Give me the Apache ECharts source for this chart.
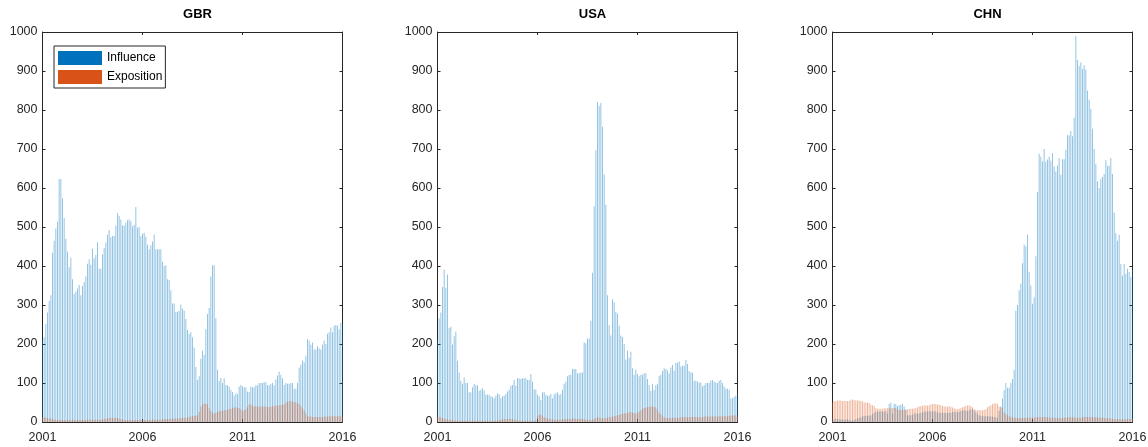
<!DOCTYPE html>
<html>
<head>
<meta charset="utf-8">
<script src="https://cdn.jsdelivr.net/npm/echarts@6/dist/echarts.min.js"></script>
<style>
  html, body { margin: 0; padding: 0; background: #fff; }
  #chart { width: 1148px; height: 447px; }
</style>
</head>
<body>
<div id="chart"></div>
<script>
// Monthly observations, January 2001 through January 2016
const countries = ['GBR', 'USA', 'CHN'];
const seriesNames = ['Influence', 'Exposition'];
const firstYear = 2001;
const lastYear = 2016;
const yearStep = 5;
const valueMax = 1000;
const valueStep = 100;

const gbrInfluence = [
  210, 217, 251, 281, 310, 325, 434, 465, 496, 514, 623, 623,
  574, 523, 470, 437, 397, 421, 366, 329, 334, 342, 351, 325,
  349, 359, 373, 406, 417, 403, 444, 420, 428, 461, 393, 393,
  430, 446, 460, 480, 492, 474, 477, 477, 504, 536, 529, 519,
  504, 504, 511, 517, 519, 515, 502, 506, 551, 498, 500, 477,
  483, 485, 475, 455, 443, 453, 463, 481, 443, 443, 443, 443,
  411, 400, 402, 366, 364, 338, 304, 304, 283, 283, 285, 301,
  291, 285, 264, 236, 226, 230, 217, 191, 141, 108, 117, 162,
  183, 172, 238, 277, 292, 373, 402, 402, 266, 134, 105, 113,
  100, 112, 94, 94, 91, 83, 77, 68, 74, 72, 91, 95,
  91, 89, 89, 78, 77, 91, 89, 89, 94, 94, 100, 100,
  100, 102, 102, 94, 94, 98, 100, 94, 109, 119, 129, 121,
  112, 95, 100, 98, 98, 100, 100, 85, 85, 100, 140, 147,
  157, 153, 170, 213, 209, 198, 204, 186, 186, 194, 189, 186,
  198, 209, 200, 226, 230, 242, 230, 247, 249, 247, 238, 254,
  252
];
const gbrExposition = [
  12, 12, 11, 10, 9, 9, 8, 7, 6, 5, 5, 5,
  5, 5, 5, 5, 5, 5, 5, 5, 5, 5, 5, 5,
  5, 5, 5, 5, 6, 6, 6, 6, 6, 6, 6, 6,
  7, 8, 9, 9, 10, 10, 10, 10, 11, 10, 9, 8,
  6, 5, 5, 5, 5, 5, 5, 5, 5, 5, 5, 5,
  5, 5, 5, 5, 5, 5, 6, 6, 6, 6, 6, 6,
  7, 7, 8, 8, 8, 8, 8, 9, 9, 9, 9, 10,
  10, 10, 11, 12, 13, 14, 15, 15, 16, 17, 26, 40,
  45, 47, 47, 45, 35, 28, 24, 22, 24, 26, 27, 28,
  29, 30, 31, 32, 33, 34, 36, 37, 38, 36, 35, 33,
  28, 30, 33, 38, 45, 45, 42, 40, 40, 39, 39, 40,
  40, 40, 39, 39, 38, 40, 41, 40, 42, 42, 43, 43,
  44, 45, 50, 52, 53, 53, 52, 51, 50, 48, 46, 41,
  35, 30, 22, 15, 14, 14, 13, 13, 13, 13, 13, 13,
  13, 14, 14, 14, 15, 15, 15, 15, 15, 15, 15, 15,
  15
];

const usaInfluence = [
  210, 266, 281, 346, 391, 344, 378, 241, 244, 199, 220, 232,
  157, 127, 106, 98, 114, 100, 100, 76, 76, 89, 98, 94,
  94, 80, 83, 87, 81, 70, 70, 70, 66, 64, 61, 67,
  74, 71, 61, 66, 67, 72, 78, 83, 93, 95, 108, 93,
  112, 112, 110, 112, 112, 112, 108, 108, 123, 104, 84, 83,
  70, 66, 57, 76, 76, 70, 67, 67, 72, 61, 71, 74,
  76, 70, 72, 83, 98, 104, 117, 121, 121, 136, 136, 136,
  125, 125, 127, 127, 204, 202, 214, 214, 259, 383, 553, 697,
  820, 810, 818, 757, 635, 557, 325, 248, 222, 315, 308, 282,
  278, 247, 222, 218, 200, 160, 183, 165, 180, 138, 121, 134,
  123, 117, 121, 121, 125, 125, 110, 95, 80, 98, 83, 95,
  98, 118, 121, 131, 138, 136, 132, 125, 140, 146, 132, 151,
  152, 155, 142, 144, 144, 159, 149, 131, 127, 127, 106, 106,
  104, 101, 101, 91, 95, 100, 100, 100, 106, 108, 104, 101,
  100, 106, 108, 100, 91, 85, 85, 83, 61, 61, 64, 68,
  72
];
const usaExposition = [
  14, 13, 12, 10, 9, 8, 7, 6, 5, 5, 4, 4,
  3, 3, 3, 3, 3, 3, 3, 3, 3, 3, 3, 3,
  3, 3, 3, 3, 3, 3, 3, 3, 3, 3, 3, 3,
  4, 5, 6, 7, 8, 8, 8, 8, 8, 7, 6, 5,
  4, 4, 3, 3, 3, 3, 3, 3, 3, 3, 3, 3,
  15, 19, 18, 15, 12, 10, 9, 8, 7, 6, 6, 6,
  6, 6, 6, 7, 7, 7, 8, 8, 8, 9, 9, 8,
  8, 8, 9, 8, 7, 6, 6, 5, 5, 6, 8, 10,
  12, 11, 10, 9, 9, 10, 11, 12, 13, 14, 15, 16,
  17, 18, 20, 21, 22, 23, 24, 25, 25, 24, 23, 22,
  24, 26, 30, 34, 36, 37, 38, 39, 40, 40, 39, 37,
  30, 24, 20, 15, 12, 11, 10, 10, 10, 10, 11, 11,
  11, 11, 12, 12, 12, 12, 12, 13, 13, 13, 13, 13,
  13, 13, 13, 13, 14, 14, 14, 14, 14, 14, 14, 14,
  14, 15, 15, 15, 15, 15, 16, 16, 16, 16, 17, 17,
  17
];

const chnInfluence = [
  9, 8, 8, 7, 7, 7, 6, 6, 7, 7, 5, 4,
  4, 5, 7, 9, 10, 12, 15, 15, 16, 16, 16, 17,
  20, 24, 26, 27, 27, 27, 26, 27, 28, 22, 46, 50,
  22, 47, 46, 41, 43, 44, 47, 40, 33, 17, 17, 17,
  18, 22, 22, 22, 22, 23, 25, 27, 27, 27, 28, 27,
  27, 28, 26, 25, 24, 24, 24, 23, 23, 24, 24, 24,
  25, 26, 25, 25, 26, 28, 29, 30, 29, 28, 30, 32,
  33, 30, 25, 20, 17, 16, 15, 15, 15, 15, 15, 14,
  14, 13, 12, 11, 28, 40, 60, 82, 100, 88, 88, 100,
  110, 134, 285, 300, 338, 355, 407, 455, 450, 480, 385, 350,
  303, 320, 425, 590, 688, 680, 668, 700, 667, 673, 680, 670,
  690, 655, 642, 658, 677, 634, 674, 674, 698, 735, 735, 747,
  733, 780, 990, 928, 913, 922, 905, 915, 903, 850, 826, 803,
  752, 700, 662, 617, 600, 623, 628, 636, 672, 657, 657, 677,
  636, 537, 484, 465, 480, 405, 375, 405, 380, 393, 385, 372,
  390
];
const chnExposition = [
  50, 53, 54, 55, 55, 55, 54, 54, 54, 54, 54, 58,
  57, 56, 56, 55, 55, 54, 53, 50, 50, 50, 49, 45,
  43, 41, 36, 34, 34, 34, 34, 35, 35, 35, 35, 35,
  36, 36, 35, 32, 31, 31, 31, 30, 31, 32, 34, 34,
  34, 35, 35, 38, 40, 41, 42, 42, 42, 42, 43, 45,
  46, 46, 46, 45, 44, 43, 41, 40, 40, 40, 40, 39,
  37, 35, 34, 33, 34, 35, 38, 40, 41, 42, 43, 41,
  38, 33, 31, 30, 30, 30, 30, 31, 33, 38, 41, 43,
  46, 48, 48, 46, 40, 38, 36, 25, 20, 17, 15, 13,
  12, 11, 10, 10, 10, 10, 10, 10, 11, 11, 11, 11,
  11, 11, 12, 12, 12, 13, 13, 13, 12, 12, 12, 11,
  11, 11, 10, 10, 10, 10, 11, 11, 11, 12, 12, 12,
  12, 12, 11, 11, 11, 11, 12, 13, 13, 13, 13, 12,
  12, 12, 12, 12, 11, 11, 11, 10, 10, 10, 9, 9,
  8, 8, 8, 7, 7, 7, 7, 7, 7, 7, 8, 8,
  8
];

const panelData = [
  [gbrInfluence, gbrExposition],
  [usaInfluence, usaExposition],
  [chnInfluence, chnExposition]
];

// Layout and styling
const FONT = 'Liberation Sans, Arial, Helvetica, sans-serif';
const AXIS_COLOR = '#262626';
const panelLeft = [42.5, 437.5, 832.5];
const panelWidth = 300;
const panelTop = 32;
const panelHeight = 390;
const barColors = ['rgba(0,114,189,0.42)', 'rgba(217,83,25,0.42)'];
const legendColors = ['#0072BD', '#D95319'];

// month index -> decimal year on the time axis
const toYear = i => firstYear + i / 12;

const grids = [], xAxes = [], yAxes = [], series = [], titles = [];

countries.forEach((name, p) => {
  grids.push({
    left: panelLeft[p], top: panelTop, width: panelWidth, height: panelHeight,
    outerBoundsMode: 'none', containLabel: false
  });
  titles.push({
    text: name,
    left: panelLeft[p] + panelWidth / 2,
    top: 3,
    textAlign: 'center',
    textStyle: { fontFamily: FONT, fontSize: 13, fontWeight: 'bold', color: '#000' }
  });
  const axisLine = { show: true, onZero: false, lineStyle: { color: AXIS_COLOR, width: 1 } };
  const axisTick = { show: true, inside: true, length: 3, lineStyle: { color: AXIS_COLOR } };
  const xBase = {
    type: 'value', gridIndex: p, min: firstYear, max: lastYear, interval: yearStep,
    splitLine: { show: false }, axisLine, axisTick
  };
  xAxes.push(Object.assign({}, xBase, {
    position: 'bottom',
    axisLabel: {
      show: true, margin: 9, fontFamily: FONT, fontSize: 12.5, color: AXIS_COLOR,
      formatter: v => String(v), showMinLabel: true, showMaxLabel: true
    }
  }));
  xAxes.push(Object.assign({}, xBase, { position: 'top', axisLabel: { show: false } }));
  const yBase = {
    type: 'value', gridIndex: p, min: 0, max: valueMax, interval: valueStep,
    splitLine: { show: false }, axisLine, axisTick
  };
  yAxes.push(Object.assign({}, yBase, {
    position: 'left',
    axisLabel: {
      show: true, margin: 5, fontFamily: FONT, fontSize: 12.5, color: AXIS_COLOR,
      formatter: v => String(v)
    }
  }));
  yAxes.push(Object.assign({}, yBase, { position: 'right', axisLabel: { show: false } }));

  panelData[p].forEach((values, s) => {
    series.push({
      type: 'bar',
      name: seriesNames[s],
      xAxisIndex: p * 2,
      yAxisIndex: p * 2,
      data: values.map((v, i) => [toYear(i), v]),
      barWidth: 1,
      barGap: '-100%',
      itemStyle: { color: barColors[s] },
      emphasis: { disabled: true },
      clip: true,
      z: 2 + s
    });
  });
});

const chart = echarts.init(document.getElementById('chart'), null, { renderer: 'canvas' });
chart.setOption({
  backgroundColor: '#ffffff',
  animation: false,
  title: titles,
  grid: grids,
  xAxis: xAxes,
  yAxis: yAxes,
  legend: {
    left: 54, top: 46,
    orient: 'vertical',
    icon: 'rect',
    itemWidth: 44, itemHeight: 14, itemGap: 5,
    padding: [5, 3, 4, 4],
    borderColor: AXIS_COLOR, borderWidth: 1,
    backgroundColor: '#ffffff',
    selectedMode: false,
    textStyle: { fontFamily: FONT, fontSize: 12, color: '#000' },
    data: seriesNames.map((n, s) => ({ name: n, itemStyle: { color: legendColors[s], opacity: 1 } }))
  },
  tooltip: { show: false },
  series: series
});
</script>
</body>
</html>
